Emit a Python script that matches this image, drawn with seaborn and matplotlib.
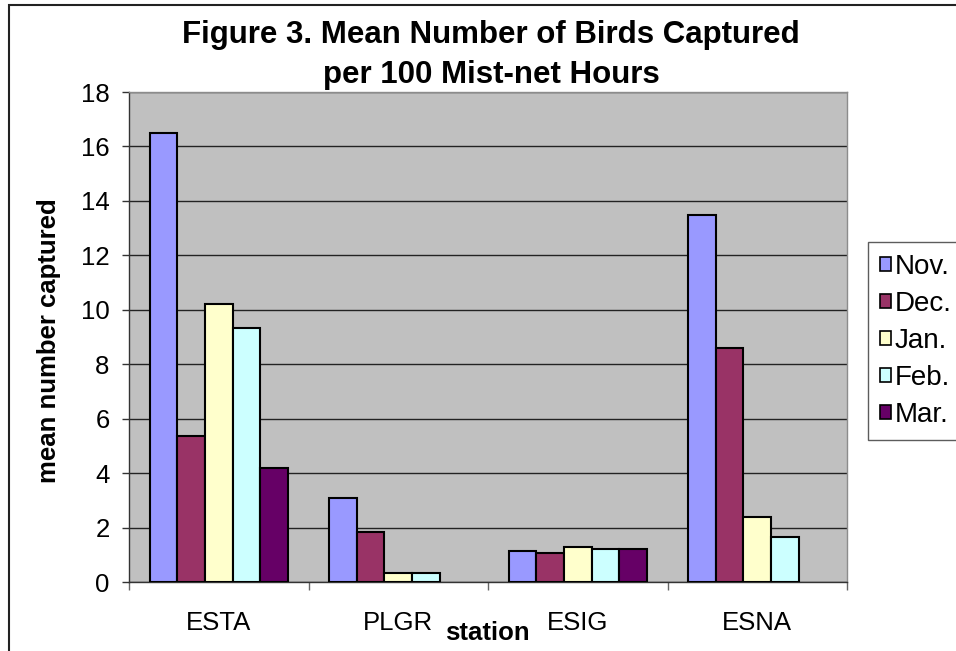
import matplotlib
matplotlib.use("Agg")
import matplotlib.pyplot as plt
from matplotlib.patches import Rectangle
import seaborn as sns
import pandas as pd
import numpy as np

# Mean captures per 100 mist-net hours, by station and month
stations = ["ESTA", "PLGR", "ESIG", "ESNA"]
months = ["Nov.", "Dec.", "Jan.", "Feb.", "Mar."]
nov = [16.5, 3.07, 1.15, 13.5]
dec = [5.35, 1.82, 1.08, 8.58]
jan = [10.2, 0.34, 1.30, 2.40]
feb = [9.32, 0.34, 1.22, 1.67]
mar = [4.18, np.nan, 1.22, np.nan]
month_colors = ["#9999FF", "#993366", "#FFFFCC", "#CCFFFF", "#660066"]

rows = []
for m, vals in zip(months, [nov, dec, jan, feb, mar]):
    for s, v in zip(stations, vals):
        if not np.isnan(v):
            rows.append({"station": s, "month": m, "value": v})
df = pd.DataFrame(rows)

sns.set_theme(style="white")
plt.rcParams["font.family"] = ["Liberation Sans", "DejaVu Sans"]
for key in ["text.color", "axes.labelcolor", "xtick.labelcolor", "ytick.labelcolor"]:
    plt.rcParams[key] = "black"

fig = plt.figure(figsize=(9.56, 6.51), dpi=100)
ax = fig.add_axes([129 / 956, 1 - 582 / 651, (847 - 129) / 956, (582 - 92) / 651])
ax.set_facecolor("#C0C0C0")

sns.barplot(data=df, x="station", y="value", hue="month",
            order=stations, hue_order=months, palette=month_colors,
            saturation=1, width=0.77, edgecolor="black", linewidth=1.5, ax=ax,
            errorbar=None, legend=True, zorder=3)

ax.set_ylim(0, 18)
ax.set_xlim(-0.5, 3.5)
ax.set_yticks(range(0, 19, 2))
ax.yaxis.grid(True, color="#222222", linewidth=1.0, zorder=0)
ax.set_axisbelow(True)

ax.tick_params(axis="y", which="major", direction="out", length=5, width=1,
               color="#333333", labelsize=18.5, pad=9, left=True)
ax.set_xticks(range(len(stations)))
ax.set_xticklabels(stations)
ax.tick_params(axis="x", which="major", length=0, labelsize=18.5, pad=21)
ax.set_xticks([-0.5, 0.5, 1.5, 2.5, 3.5], minor=True)
ax.tick_params(axis="x", which="minor", direction="out", length=6, width=1,
               color="#666666", bottom=True)

for side in ["left", "bottom"]:
    ax.spines[side].set_color("#333333")
    ax.spines[side].set_linewidth(1.0)
for side in ["top", "right"]:
    ax.spines[side].set_color("#8C8C8C")
    ax.spines[side].set_linewidth(1.0)

ax.set_xlabel("")
ax.set_ylabel("")
fig.text(49 / 956, 1 - 341 / 651, "mean number captured", fontsize=18.5,
         fontweight="bold", rotation=90, ha="center", va="center")
fig.text(487 / 956, 1 - 640 / 651, "station", fontsize=18.5, fontweight="bold",
         ha="center", va="baseline")

fig.text(491 / 956, 1 - 43 / 651, "Figure 3. Mean Number of Birds Captured",
         fontsize=22.5, fontweight="bold", ha="center", va="baseline")
fig.text(491 / 956, 1 - 83 / 651, "per 100 Mist-net Hours",
         fontsize=22.5, fontweight="bold", ha="center", va="baseline")

leg = ax.legend(title=None, loc="upper left", bbox_to_anchor=(868 / 956, 1 - 242 / 651),
                bbox_transform=fig.transFigure, fontsize=20, frameon=True,
                fancybox=False, edgecolor="#333333", handlelength=0.42, handleheight=0.42,
                handletextpad=0.12, labelspacing=0.4, borderpad=0.42, borderaxespad=0)
leg.get_frame().set_linewidth(1.0)
for h in leg.legend_handles:
    h.set_edgecolor("black")
    h.set_linewidth(1.2)

fig.patches.append(Rectangle((9 / 956, -0.1), 1.2, 1.1 - 4.5 / 651,
                             transform=fig.transFigure, fill=False,
                             edgecolor="#222222", linewidth=1.5))

fig.savefig("out.png", dpi=100, facecolor="white")
